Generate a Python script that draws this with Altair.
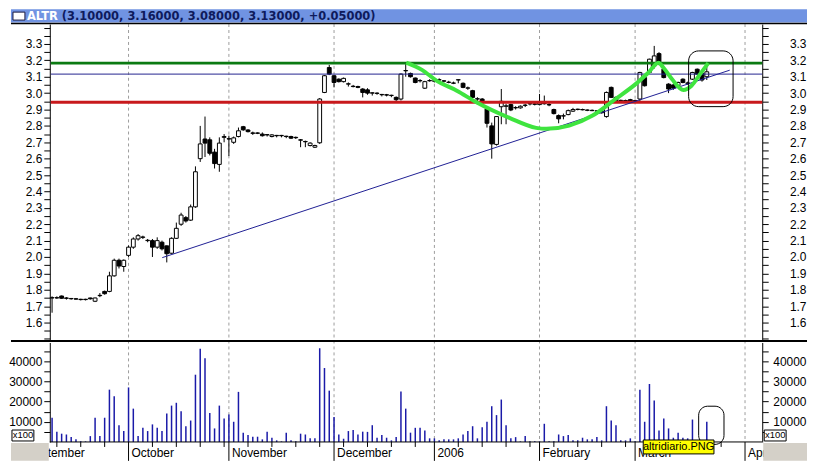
import altair as alt
import pandas as pd

# ---------------- data ----------------
opens = [1.75,1.75,1.762,1.75,1.745,1.745,1.742,1.742,1.75,1.73,1.764,1.79,1.79,1.885,1.98,1.942,2.01,2.06,2.11,2.12,
         2.10,2.10,2.06,2.09,2.068,2.023,2.114,2.2,2.24,2.225,2.306,2.60,2.72,2.715,2.64,2.565,2.73,2.72,2.70,2.735,
         2.795,2.775,2.757,2.757,2.75,2.745,2.735,2.742,2.742,2.737,2.735,2.73,2.715,2.705,2.68,2.67,2.697,3.004,3.156,3.106,
         3.085,3.07,3.055,3.04,3.04,3.025,3.02,3.0,2.998,2.99,2.99,2.985,2.974,2.964,3.136,3.12,3.092,3.075,3.03,3.075,
         3.075,3.08,3.075,3.065,3.06,3.08,3.06,3.03,3.015,2.964,2.964,2.904,2.80,2.687,2.917,2.92,2.93,2.91,2.91,2.925,
         2.934,2.934,2.93,2.937,2.93,2.9,2.863,2.86,2.869,2.89,2.90,2.90,2.895,2.895,2.89,2.89,2.857,3.035,2.974,2.954,
         2.955,2.96,2.955,2.964,3.095,3.126,3.166,3.241,3.146,3.055,3.05,3.045,3.085,3.06,3.085,3.146,3.12,3.10]
highs = [1.76,1.76,1.765,1.755,1.75,1.75,1.745,1.745,1.752,1.752,1.78,1.795,1.91,1.99,1.99,1.985,2.07,2.12,2.14,2.13,
         2.11,2.11,2.12,2.10,2.07,2.12,2.21,2.27,2.25,2.32,2.553,2.80,2.857,2.73,2.66,2.73,2.75,2.74,2.735,2.79,
         2.80,2.78,2.765,2.76,2.76,2.75,2.75,2.745,2.745,2.74,2.74,2.735,2.72,2.71,2.70,2.685,2.97,3.11,3.172,3.11,
         3.09,3.095,3.065,3.05,3.045,3.03,3.03,3.005,3.005,2.995,2.995,2.99,2.98,3.12,3.186,3.125,3.095,3.085,3.075,3.085,
         3.085,3.09,3.08,3.075,3.07,3.085,3.065,3.04,3.02,2.975,2.97,2.91,2.82,2.86,3.025,2.935,2.935,2.92,2.925,2.935,
         2.94,2.945,2.995,2.985,2.94,2.905,2.87,2.875,2.90,2.91,2.905,2.905,2.90,2.90,2.895,2.895,3.01,3.04,2.98,2.96,
         2.96,2.965,2.96,3.13,3.11,3.21,3.288,3.25,3.15,3.06,3.055,3.07,3.09,3.07,3.13,3.15,3.13,3.16]
lows = [1.66,1.745,1.745,1.74,1.74,1.74,1.735,1.735,1.74,1.725,1.755,1.77,1.785,1.88,1.93,1.91,2.0,2.05,2.10,2.11,
        2.09,2.0,2.05,2.04,1.967,2.02,2.11,2.19,2.21,2.22,2.30,2.58,2.61,2.62,2.54,2.52,2.70,2.616,2.69,2.73,
        2.77,2.76,2.745,2.75,2.735,2.735,2.73,2.73,2.73,2.725,2.72,2.72,2.67,2.67,2.675,2.665,2.69,3.0,3.11,3.035,
        3.065,3.065,3.04,3.035,3.03,2.974,2.99,2.985,2.99,2.98,2.98,2.975,2.95,2.955,3.10,3.095,3.06,3.065,3.025,3.07,
        3.065,3.07,3.065,3.06,3.055,3.06,3.03,3.02,2.97,2.93,2.935,2.79,2.60,2.68,2.81,2.81,2.89,2.90,2.905,2.915,
        2.925,2.925,2.925,2.93,2.92,2.87,2.816,2.84,2.865,2.885,2.895,2.895,2.89,2.89,2.885,2.875,2.85,2.97,2.95,2.945,
        2.945,2.945,2.94,2.95,3.04,3.12,3.15,3.17,3.09,3.0,3.02,3.04,3.06,3.05,3.08,3.11,3.07,3.08]
closes = [1.752,1.752,1.748,1.748,1.747,1.743,1.74,1.74,1.745,1.75,1.766,1.776,1.885,1.98,1.945,1.98,2.06,2.11,2.13,2.122,
          2.102,2.06,2.10,2.05,2.02,2.114,2.175,2.256,2.22,2.306,2.52,2.69,2.695,2.633,2.57,2.695,2.735,2.722,2.727,2.77,
          2.776,2.765,2.755,2.755,2.74,2.747,2.745,2.74,2.74,2.735,2.725,2.728,2.713,2.703,2.695,2.68,2.964,3.106,3.116,3.065,
          3.07,3.09,3.057,3.042,3.035,3.004,3.0,3.002,3.0,2.992,2.988,2.987,2.96,3.116,3.138,3.10,3.065,3.077,3.07,3.077,
          3.073,3.082,3.073,3.067,3.062,3.082,3.035,3.032,2.974,2.966,2.94,2.816,2.69,2.857,2.95,2.922,2.897,2.912,2.92,2.927,
          2.936,2.932,2.94,2.935,2.928,2.875,2.843,2.862,2.893,2.90,2.902,2.898,2.897,2.893,2.892,2.88,3.004,2.974,2.955,2.956,
          2.953,2.95,2.945,3.126,3.045,3.207,3.227,3.177,3.095,3.025,3.03,3.065,3.065,3.062,3.126,3.116,3.08,3.13]
volumes = [12000,5100,4100,3700,2400,1300,300,300,2900,12000,2900,12000,25900,22600,8300,5400,27000,16500,2900,7000,
           5400,8700,7000,5400,14100,18000,19400,15200,7800,10600,33300,46100,41500,14400,6700,18000,11600,13600,10000,24800,
           4600,3400,2600,2600,1300,5100,2100,800,300,4600,800,300,4100,3700,1800,1800,46400,36600,25400,12300,
           3700,1600,5400,5900,3700,5100,5000,8300,2100,3400,2100,800,2400,25000,16500,4600,7000,7000,5700,1800,
           1800,800,1300,1300,1300,1800,3700,5400,7800,1800,7300,10000,17700,13300,21000,8300,1800,2400,300,2900,
           300,300,300,9000,300,300,3700,2900,3400,800,800,2100,1300,1300,2400,800,17700,10600,8300,800,
           800,1800,300,25900,10000,28700,20500,5700,11600,6700,2100,4600,2100,1800,11100,300,300,10000]

month_starts = [-6, 16, 37, 59, 80, 102, 122, 145]
month_names = ["September", "October", "November", "December", "2006", "February", "March", "April"]
week_starts = [1, 6, 11, 21, 26, 31, 36, 41, 46, 51, 56, 61, 66, 71, 76, 85, 90, 95, 100,
               105, 110, 115, 120, 125, 130, 135, 140]

level_green = 3.183
level_blue = 3.116
level_red = 2.944
trend_i = [23.05, 141.8]
trend_p = [1.996, 3.14]
curve_i = [74.1, 77.4, 80.5, 84.7, 88.8, 95.7, 101.3, 103.4, 108.2, 113.1, 117.9, 122.1, 124.8,
           126.9, 127.9, 129.7, 132.1, 133.8, 135.6, 137.3]
curve_p = [3.186, 3.142, 3.075, 3.015, 2.944, 2.849, 2.788, 2.782, 2.802, 2.863, 2.964, 3.055, 3.126,
           3.186, 3.156, 3.086, 3.019, 3.045, 3.116, 3.183]
price_box_i = [133.2, 142.5]
price_box_p = [2.9175, 3.2575]
vol_box_i = [135.3, 140.6]
vol_box_v = [-1200, 17700]
tip_i = [123.7, 138.5]

ticker = "ALTR"
last_bar = [3.10, 3.16, 3.08, 3.13, 0.05]
volume_unit = "x100"
tip_text = "altridiario.PNG"

price_ticks = [round(1.5 + 0.05 * k, 2) for k in range(39)]
vol_ticks = [5000 * k for k in range(1, 10)]

# ---------------- tables ----------------
n = len(opens)
candles = pd.DataFrame({"i": list(range(n)), "o": opens, "h": highs, "l": lows, "c": closes})
vol = pd.DataFrame({"i": list(range(n)), "v": volumes})
months = pd.DataFrame({"m": month_starts, "name": month_names})
weeks = pd.DataFrame({"w": week_starts})

X_SCALE = alt.Scale(domain=[-0.478, 148.6], nice=False, zero=False)
P_SCALE = alt.Scale(domain=[1.4967, 3.4214], range=[317, 0], nice=False, zero=False)
V_SCALE = alt.Scale(domain=[0, 49260], range=[420, 320], nice=False, zero=False)
FONT = "Liberation Sans"

def X(f):
    return alt.X(f, scale=X_SCALE, axis=None)

def PY(f):
    return alt.Y(f, scale=P_SCALE, axis=None)

def VY(f):
    return alt.Y(f, scale=V_SCALE, axis=None)

# ---------------- background decor ----------------
grid = alt.Chart(months).transform_filter("datum.m >= 0").mark_rule(
    color="#9c9c9c", strokeDash=[3, 3], strokeWidth=1
).encode(x=X("m:Q"), y=alt.value(0), y2=alt.value(420))

# ---------------- price panel ----------------
wicks = alt.Chart(candles).mark_rule(color="black", strokeWidth=1).encode(
    x=X("i:Q"), y=PY("l:Q"), y2="h:Q")
bodies = alt.Chart(candles).transform_calculate(
    i0="datum.i - 0.4", i1="datum.i + 0.4"
).mark_rect(stroke="black", strokeWidth=1).encode(
    x=X("i0:Q"), x2="i1:Q", y=PY("o:Q"), y2="c:Q",
    fill=alt.condition("datum.c >= datum.o", alt.value("white"), alt.value("black")))

def level(v, color, w):
    return alt.Chart(pd.DataFrame({"p": [v]})).mark_rule(color=color, strokeWidth=w).encode(
        y=PY("p:Q"), x=alt.value(1), x2=alt.value(716))

g_line = level(level_green, "#0b7a12", 3)
b_line = level(level_blue, "#23238f", 1)
r_line = level(level_red, "#c8191c", 3)

trend = alt.Chart(pd.DataFrame({"a": [trend_i[0]], "b": [trend_i[1]], "pa": [trend_p[0]], "pb": [trend_p[1]]})).mark_rule(
    color="#1f1f94", strokeWidth=1).encode(x=X("a:Q"), x2="b:Q", y=PY("pa:Q"), y2="pb:Q")

curve = alt.Chart(pd.DataFrame({"i": curve_i, "p": curve_p})).mark_line(
    color="#3fe43f", strokeWidth=4, interpolate="monotone").encode(x=X("i:Q"), y=PY("p:Q"))

pbox = alt.Chart(pd.DataFrame({"a": [price_box_i[0]], "b": [price_box_i[1]], "pa": [price_box_p[0]], "pb": [price_box_p[1]]})).mark_rect(
    cornerRadius=10, fillOpacity=0, stroke="black", strokeWidth=1).encode(
    x=X("a:Q"), x2="b:Q", y=PY("pa:Q"), y2="pb:Q")

price_lbl = ("abs(datum.value*10 - round(datum.value*10)) < 0.001 && datum.value > 1.55 && datum.value < 3.35"
             " ? format(datum.value, '.1f') : ''")
axis_pt = pd.DataFrame({"p": [2.5]})
p_axis_l = alt.Chart(axis_pt).mark_point(opacity=0, size=0).encode(
    y=alt.Y("p:Q", scale=P_SCALE, axis=alt.Axis(
        orient="left", values=price_ticks, labelExpr=price_lbl, tickSize=6, labelPadding=2,
        grid=False, title=None, labelFont=FONT, labelFontSize=12, labelColor="black",
        domainColor="black", tickColor="black", labelOverlap=False, labelFlush=False)))
p_axis_r = alt.Chart(axis_pt).mark_point(opacity=0, size=0).encode(
    y=alt.Y("p:Q", scale=P_SCALE, axis=alt.Axis(
        orient="right", values=price_ticks, labelExpr=price_lbl, tickSize=6, labelPadding=38,
        labelAlign="right", grid=False, title=None, labelFont=FONT, labelFontSize=12,
        labelColor="black", domainColor="black", tickColor="black", labelOverlap=False,
        labelFlush=False)))

price = alt.layer(wicks, bodies, g_line, b_line, r_line, trend, curve, pbox,
                  p_axis_l, p_axis_r).resolve_axis(y="independent")

# ---------------- volume panel ----------------
vbars = alt.Chart(vol).mark_rule(color="#1a1aa8", strokeWidth=1.5).encode(
    x=X("i:Q"), y=VY("v:Q"), y2=alt.Y2(datum=0))
vbox = alt.Chart(pd.DataFrame({"a": [vol_box_i[0]], "b": [vol_box_i[1]], "va": [vol_box_v[0]], "vb": [vol_box_v[1]]})).mark_rect(
    cornerRadius=9, fillOpacity=0, stroke="black", strokeWidth=1).encode(
    x=X("a:Q"), x2="b:Q", y=VY("va:Q"), y2="vb:Q")
vol_lbl = "datum.value % 10000 == 0 ? format(datum.value, 'd') : ''"
vaxis_pt = pd.DataFrame({"v": [10000]})
v_axis_l = alt.Chart(vaxis_pt).mark_point(opacity=0, size=0).encode(
    y=alt.Y("v:Q", scale=V_SCALE, axis=alt.Axis(
        orient="left", values=vol_ticks, labelExpr=vol_lbl, tickSize=6, labelPadding=2,
        grid=False, title=None, labelFont=FONT, labelFontSize=12, labelColor="black",
        domainColor="black", tickColor="black", labelOverlap=False, labelFlush=False)))
v_axis_r = alt.Chart(vaxis_pt).mark_point(opacity=0, size=0).encode(
    y=alt.Y("v:Q", scale=V_SCALE, axis=alt.Axis(
        orient="right", values=vol_ticks, labelExpr=vol_lbl, tickSize=6, labelPadding=38,
        labelAlign="right", grid=False, title=None, labelFont=FONT, labelFontSize=12,
        labelColor="black", domainColor="black", tickColor="black", labelOverlap=False,
        labelFlush=False)))

volume = alt.layer(vbars, vbox, v_axis_l, v_axis_r).resolve_axis(y="independent")

# ---------------- front decor ----------------
one = pd.DataFrame({"k": [0]})
title_bar = alt.Chart(one).mark_rect(fill="#7093e2").encode(
    x=alt.value(-39), x2=alt.value(761), y=alt.value(-15), y2=alt.value(-1.5))
icon = alt.Chart(one).mark_rect(fill="white", stroke="#1a1a40", strokeWidth=1).encode(
    x=alt.value(-37), x2=alt.value(-25), y=alt.value(-12), y2=alt.value(-4))
title_sym = alt.Chart(pd.DataFrame({"t": [ticker]})).mark_text(
    align="left", baseline="alphabetic", font="DejaVu Sans", fontSize=11.5, fontWeight="bold",
    color="white").encode(x=alt.value(-23), y=alt.value(-4.5), text="t:N")
title_str = "({:.5f}, {:.5f}, {:.5f}, {:.5f}, {:+.5f})".format(*last_bar)
title_val = alt.Chart(pd.DataFrame({"t": [title_str]})).mark_text(
    align="left", baseline="alphabetic", font="DejaVu Sans", fontSize=11.5, fontWeight="bold",
    color="#0e1a5c").encode(x=alt.value(12), y=alt.value(-4.5), text="t:N")

top_line = alt.Chart(one).mark_rule(color="black", strokeWidth=1.5).encode(
    x=alt.value(-39), x2=alt.value(761), y=alt.value(-0.5))
sep_line = alt.Chart(one).mark_rule(color="black", strokeWidth=2).encode(
    x=alt.value(-39), x2=alt.value(761), y=alt.value(318.5))
bottom_line = alt.Chart(one).mark_rule(color="black", strokeWidth=1).encode(
    x=alt.value(0), x2=alt.value(716), y=alt.value(420))

month_ticks = alt.Chart(months).transform_filter("datum.m >= 0").mark_rule(
    color="black", strokeWidth=1).encode(x=X("m:Q"), y=alt.value(420), y2=alt.value(439))
week_ticks = alt.Chart(weeks).mark_rule(color="black", strokeWidth=1).encode(
    x=X("w:Q"), y=alt.value(420), y2=alt.value(425))
month_text = alt.Chart(months).mark_text(
    align="left", baseline="middle", dx=3, font=FONT, fontSize=12, color="black").encode(
    x=X("m:Q"), y=alt.value(431), text="name:N")

gray_l = alt.Chart(one).mark_rect(fill="#d4d0c8").encode(
    x=alt.value(-39), x2=alt.value(-1), y=alt.value(421), y2=alt.value(439))
gray_r = alt.Chart(one).mark_rect(fill="#d4d0c8").encode(
    x=alt.value(717), x2=alt.value(761), y=alt.value(421), y2=alt.value(439))

def unit_box(x0):
    box = alt.Chart(one).mark_rect(fill="white", stroke="black", strokeWidth=1).encode(
        x=alt.value(x0), x2=alt.value(x0 + 22), y=alt.value(408), y2=alt.value(419))
    txt = alt.Chart(pd.DataFrame({"t": [volume_unit]})).mark_text(
        align="center", baseline="middle", font=FONT, fontSize=9.5, color="black").encode(
        x=alt.value(x0 + 11), y=alt.value(413.5), text="t:N")
    return box + txt

unit_l = unit_box(-38)
unit_r = unit_box(718)

tip_df = pd.DataFrame({"a": [tip_i[0]], "b": [tip_i[1]], "t": [tip_text]})
tip_box = alt.Chart(tip_df).mark_rect(fill="#ffff00", stroke="black", strokeWidth=1).encode(
    x=X("a:Q"), x2="b:Q", y=alt.value(418), y2=alt.value(432))
tip_txt = alt.Chart(tip_df).transform_calculate(mid="(datum.a + datum.b) / 2").mark_text(
    align="center", baseline="middle", font=FONT, fontSize=11, color="black").encode(
    x=X("mid:Q"), y=alt.value(425), text="t:N")

chart = alt.layer(
    grid, price, volume,
    title_bar, icon, title_sym, title_val, top_line, sep_line, bottom_line,
    month_ticks, week_ticks, month_text, gray_l, gray_r, unit_l, unit_r, tip_box, tip_txt
).resolve_scale(y="independent").resolve_axis(y="independent").properties(
    width=716, height=420, padding=0, background="white"
).configure_view(stroke=None)

chart.save("out.html", embed_options={"renderer": "svg", "actions": False})
